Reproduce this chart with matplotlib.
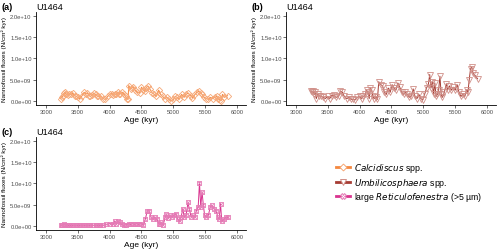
import matplotlib.pyplot as plt
from matplotlib.lines import Line2D

# ages (kyr) and fluxes (1e9 N/cm2 kyr)
age_a = [3230, 3250, 3270, 3290, 3300, 3320, 3350, 3370, 3400, 3420, 3450, 3480, 3500, 3530, 3560,
         3600, 3630, 3650, 3680, 3700, 3730, 3750, 3780, 3800, 3820, 3860, 3900, 3930, 3970, 4000,
         4030, 4050, 4080, 4100, 4130, 4150, 4170, 4200, 4230, 4250, 4270, 4290, 4300, 4330, 4350,
         4370, 4400, 4430, 4470, 4500, 4530, 4550, 4570, 4600, 4630, 4670, 4700, 4730, 4770, 4800,
         4830, 4870, 4900, 4930, 4970, 5000, 5030, 5060, 5090, 5130, 5170, 5200, 5230, 5270, 5300,
         5330, 5370, 5400, 5430, 5450, 5480, 5520, 5550, 5580, 5620, 5650, 5680, 5700, 5730, 5750,
         5770, 5800, 5850]
flux_a = [0.5, 0.8, 1.2, 1.8, 2.0, 1.5, 1.3, 1.6, 1.5, 1.8, 1.2, 1.0, 0.8, 0.5, 1.0,
          2.0, 1.6, 1.8, 1.2, 1.0, 1.4, 1.8, 1.5, 1.2, 1.0, 1.1, 0.5, 0.3, 1.0, 1.5,
          1.7, 1.4, 1.6, 1.5, 2.0, 1.6, 1.7, 2.0, 1.5, 1.0, 0.5, 0.3, 3.6, 2.8, 3.0,
          3.2, 2.5, 2.0, 1.8, 3.2, 2.5, 2.2, 3.0, 3.5, 2.8, 1.8, 1.5, 1.0, 2.5, 1.5,
          1.0, 0.5, 0.8, 0.3, 0.0, 0.3, 1.0, 0.8, 0.3, 1.5, 0.8, 1.5, 1.8, 1.2, 0.7,
          1.3, 2.0, 2.2, 1.8, 1.5, 0.8, 0.5, 0.3, 0.8, 0.5, 0.8, 1.0, 0.5, 0.2, 0.0,
          1.5, 0.8, 1.2]

age_b = [3230, 3250, 3270, 3290, 3300, 3320, 3340, 3370, 3400, 3430, 3460, 3500, 3530, 3560, 3600,
         3630, 3670, 3700, 3730, 3760, 3800, 3830, 3870, 3900, 3930, 3960, 4000, 4030, 4060, 4090,
         4110, 4130, 4150, 4170, 4190, 4210, 4230, 4260, 4280, 4300, 4330, 4360, 4390, 4420, 4450,
         4480, 4510, 4540, 4570, 4600, 4630, 4660, 4690, 4720, 4750, 4780, 4810, 4840, 4870, 4900,
         4930, 4960, 4990, 5020, 5050, 5080, 5100, 5120, 5140, 5160, 5180, 5200, 5220, 5240, 5260,
         5280, 5300, 5330, 5360, 5380, 5410, 5440, 5470, 5500, 5530, 5560, 5590, 5620, 5650, 5680,
         5700, 5720, 5740, 5760, 5780, 5810, 5850]
flux_b = [2.3, 2.0, 2.2, 1.5, 2.0, 0.5, 1.5, 1.2, 1.0, 0.8, 0.5, 1.0, 0.5, 1.2, 1.3,
          0.8, 1.0, 2.3, 2.0, 1.0, 0.5, 0.8, 0.3, 0.3, 0.2, 0.8, 1.0, 0.5, 1.0, 1.5,
          2.5, 2.0, 0.5, 3.0, 2.5, 1.0, 0.5, 0.8, 0.3, 4.5, 3.8, 3.5, 2.0, 1.5, 3.0,
          2.0, 3.8, 3.0, 2.5, 4.2, 3.2, 2.0, 1.5, 2.0, 1.5, 0.8, 1.2, 2.8, 1.0, 0.5,
          1.5, 0.5, 0.2, 1.5, 3.0, 4.0, 6.2, 3.0, 4.5, 1.5, 4.2, 1.0, 1.5, 2.5, 5.8,
          1.5, 0.8, 2.0, 4.0, 2.5, 3.5, 2.5, 3.2, 2.5, 3.8, 2.0, 1.0, 1.5, 1.0, 2.5,
          2.0, 5.0, 7.5, 8.0, 6.5, 6.0, 5.2]

age_c = [3230, 3260, 3290, 3300, 3330, 3360, 3400, 3430, 3470, 3500, 3540, 3580, 3620, 3660, 3700,
         3740, 3780, 3820, 3850, 3900, 3950, 4000, 4050, 4080, 4100, 4130, 4160, 4190, 4220, 4260,
         4300, 4330, 4370, 4400, 4430, 4460, 4500, 4530, 4560, 4590, 4620, 4650, 4680, 4710, 4740,
         4770, 4790, 4810, 4840, 4870, 4890, 4920, 4950, 4980, 5010, 5040, 5070, 5100, 5120, 5150,
         5170, 5200, 5230, 5250, 5280, 5310, 5340, 5360, 5390, 5410, 5430, 5450, 5470, 5490, 5520,
         5550, 5580, 5610, 5640, 5670, 5700, 5720, 5740, 5760, 5790, 5820, 5850]
flux_c = [0.1, 0.2, 0.3, 0.2, 0.1, 0.1, 0.1, 0.1, 0.1, 0.1, 0.1, 0.1, 0.1, 0.1, 0.1,
          0.1, 0.1, 0.1, 0.1, 0.1, 0.3, 0.5, 0.3, 1.0, 0.5, 1.0, 0.8, 0.3, 0.1, 0.2,
          0.5, 0.3, 0.5, 0.3, 0.5, 0.3, 0.5, 0.2, 1.5, 3.5, 3.5, 2.0, 1.5, 2.0, 1.5,
          0.5, 0.3, 0.8, 0.1, 2.0, 2.8, 1.8, 2.5, 2.0, 2.5, 2.8, 1.5, 1.0, 2.0, 4.0,
          2.0, 2.5, 5.5, 4.0, 2.0, 2.5, 2.0, 3.5, 4.5, 10.2, 4.5, 8.0, 5.0, 2.5, 2.0,
          2.5, 4.5, 4.8, 4.0, 3.5, 2.0, 1.5, 5.2, 1.0, 1.5, 2.0, 2.0]

col_a = '#f4873e'
col_b = '#a63c33'
col_c = '#d9348f'

plt.rcParams['font.family'] = ['Liberation Sans', 'DejaVu Sans']
fig = plt.figure(figsize=(5, 2.51), dpi=100)

boxes = [(0.072, 0.578, 0.42, 0.37), (0.572, 0.578, 0.42, 0.37), (0.072, 0.08, 0.42, 0.37)]
tags = ['(a)', '(b)', '(c)']
ytl = ['0.0e+00', '5.0e+09', '1.0e+10', '1.5e+10', '2.0e+10']


def setup(ax, tag):
    ax.set_xlim(2845, 6140)
    ax.set_ylim(-1e9, 2.1e10)
    ax.set_xticks([3000, 3500, 4000, 4500, 5000, 5500, 6000])
    ax.set_yticks([0, 5e9, 1e10, 1.5e10, 2e10])
    ax.set_yticklabels(ytl)
    ax.tick_params(labelsize=4.2, colors='#333333', length=2, width=0.5, pad=1.2)
    ax.tick_params(labelcolor='#4d4d4d')
    for s in ['top', 'right']:
        ax.spines[s].set_visible(False)
    for s in ['left', 'bottom']:
        ax.spines[s].set_linewidth(0.6)
    ax.set_xlabel('Age (kyr)', fontsize=6, labelpad=1)
    ax.set_ylabel('Nannofossil fluxes (N/cm² kyr)', fontsize=4.6)
    ax.yaxis.set_label_coords(-0.138, 0.5)
    ax.text(-0.162, 1.03, tag, transform=ax.transAxes, fontsize=6.5, fontweight='bold')
    ax.text(0.0, 1.03, 'U1464', transform=ax.transAxes, fontsize=6.5)


ax1 = fig.add_axes(boxes[0])
setup(ax1, tags[0])
ax1.plot(age_a, [v * 1e9 for v in flux_a], color=col_a, lw=0.7, marker='D', ms=3.2,
         mfc='none', mec='#f6a877', mew=0.6)

ax2 = fig.add_axes(boxes[1])
setup(ax2, tags[1])
ax2.plot(age_b, [v * 1e9 for v in flux_b], color=col_b, lw=0.7, marker='v', ms=3.8,
         mfc='none', mec='#d08f88', mew=0.6)

ax3 = fig.add_axes(boxes[2])
setup(ax3, tags[2])
yc = [v * 1e9 for v in flux_c]
ax3.plot(age_c, yc, color=col_c, lw=0.7, marker='s', ms=3.2,
         mfc='none', mec='#e57cb6', mew=0.6)
ax3.plot(age_c, yc, ls='none', marker='x', ms=2.8, mec='#e57cb6', mew=0.5)

handles = [
    Line2D([], [], color=col_a, lw=2, marker='D', ms=3.5, mfc='white', mec='#f6a877', mew=0.7),
    Line2D([], [], color=col_b, lw=2, marker='v', ms=4, mfc='white', mec='#d08f88', mew=0.7),
    Line2D([], [], color=col_c, lw=2, marker='X', ms=4, mfc='white', mec='#e57cb6', mew=0.7),
]
labels = [r'$\it{Calcidiscus}$ spp.', r'$\it{Umbilicosphaera}$ spp.',
          r'large $\it{Reticulofenestra}$ (>5 µm)']
fig.legend(handles, labels, loc='center left', bbox_to_anchor=(0.664, 0.27),
           frameon=False, fontsize=6.3, handlelength=1.6, handletextpad=0.45,
           labelspacing=0.2, borderpad=0)

fig.savefig('out.png', dpi=100)
